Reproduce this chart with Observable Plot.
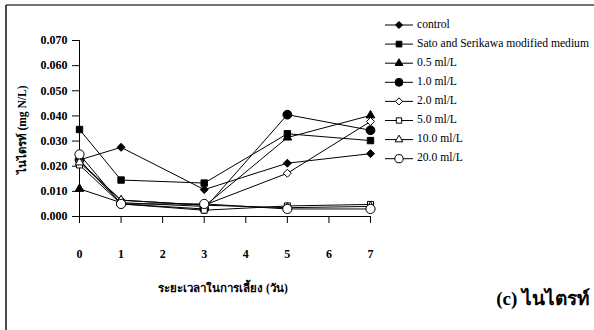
<!DOCTYPE html>
<html>
<head>
<meta charset="utf-8">
<script src="https://cdn.jsdelivr.net/npm/d3@7"></script>
<script src="https://cdn.jsdelivr.net/npm/@observablehq/plot@0.6"></script>
<style>
  html, body { margin: 0; padding: 0; background: #fff; }
  #chart { position: relative; width: 594px; height: 330px; overflow: hidden; }
  #chart svg, #chart svg text { font-family: "Liberation Serif", "Times New Roman", serif !important; }
</style>
</head>
<body>
<div id="chart"></div>
<script>
// ---- data ----
const days = [0, 1, 3, 5, 7];
const xTicks = [0, 1, 2, 3, 4, 5, 6, 7];
const yTicks = [0, 0.01, 0.02, 0.03, 0.04, 0.05, 0.06, 0.07];
const seriesNames = ["control", "Sato and Serikawa modified medium", "0.5 ml/L", "1.0 ml/L", "2.0 ml/L", "5.0 ml/L", "10.0 ml/L", "20.0 ml/L"];
const control   = [0.0225, 0.0275, 0.0107, 0.0212, 0.0250];
const sato      = [0.0346, 0.0145, 0.0133, 0.0329, 0.0302];
const ml0_5     = [0.0110, 0.0055, 0.0040, 0.0314, 0.0402];
const ml1_0     = [0.0225, 0.0050, 0.0030, 0.0405, 0.0343];
const ml2_0     = [0.0220, 0.0065, 0.0045, 0.0172, 0.0378];
const ml5_0     = [0.0205, 0.0050, 0.0025, 0.0042, 0.0048];
const ml10_0    = [0.0215, 0.0065, 0.0045, 0.0035, 0.0040];
const ml20_0    = [0.0247, 0.0050, 0.0050, 0.0030, 0.0030];
const seriesValues = [control, sato, ml0_5, ml1_0, ml2_0, ml5_0, ml10_0, ml20_0];
const yLabel = "ไนไตรท์ (mg N/L)";
const xLabel = "ระยะเวลาในการเลี้ยง (วัน)";
const panelTitle = "(c) ไนไตรท์";

// ---- styles ----
const symbols = ["diamond2", "square", "triangle", "circle", "diamond2", "square", "triangle", "circle"];
const fills   = ["black", "black", "black", "black", "white", "white", "white", "white"];
const radii   = [3.6, 3.6, 3.2, 4.4, 3.6, 3.4, 3.2, 4.6];

const data = [];
seriesNames.forEach((name, i) => {
  days.forEach((d, j) => data.push({series: name, idx: i, day: d, value: seriesValues[i][j]}));
});

const W = 594, H = 330;
const FF = "Liberation Serif, Times New Roman, serif";
const marks = [
  Plot.ruleX([0], {stroke: "black", strokeWidth: 1}),
  Plot.ruleY([0], {stroke: "black", strokeWidth: 1}),
  Plot.axisY({ticks: yTicks, tickSize: 7, tickPadding: 5, tickFormat: d3.format(".3f"), label: null,
    fontWeight: "bold", fontSize: 12, fontFamily: FF, stroke: "black"}),
  Plot.axisX({ticks: xTicks, tickSize: 7, tickPadding: 26, tickFormat: d => String(d), label: null,
    fontWeight: "bold", fontSize: 12, fontFamily: FF, stroke: "black"}),
  Plot.line(data, {x: "day", y: "value", z: "series", stroke: "black", strokeWidth: 1})
];
seriesNames.forEach((name, i) => {
  marks.push(Plot.dot(data.filter(d => d.idx === i), {
    x: "day", y: "value", symbol: () => symbols[i], r: radii[i],
    fill: fills[i], stroke: "black", strokeWidth: 1
  }));
});

const plot = Plot.plot({
  width: W, height: H,
  marginLeft: 79, marginRight: 224, marginTop: 40, marginBottom: 114,
  x: {domain: [0, 7]},
  y: {domain: [0, 0.07]},
  symbol: {type: "identity"},
  style: {fontFamily: FF, color: "black", overflow: "visible"},
  marks
});
document.getElementById("chart").appendChild(plot);

// ---- decorations: frame, titles, legend ----
const svg = d3.select(plot);
svg.append("line").attr("x1", 6).attr("x2", W).attr("y1", 5).attr("y2", 5)
  .attr("stroke", "#444").attr("stroke-width", 1.5);
svg.append("line").attr("x1", 6).attr("x2", 6).attr("y1", 5).attr("y2", H)
  .attr("stroke", "#111").attr("stroke-width", 1.5);

svg.append("text").attr("transform", "translate(23,130) rotate(-90)")
  .attr("text-anchor", "middle").attr("dominant-baseline", "middle")
  .attr("font-weight", "bold").attr("font-size", 11.5).text(yLabel);

svg.append("text").attr("x", 223).attr("y", 289)
  .attr("text-anchor", "middle").attr("dominant-baseline", "middle")
  .attr("font-weight", "bold").attr("font-size", 11.5).text(xLabel);

svg.append("text").attr("x", 590).attr("y", 301)
  .attr("text-anchor", "end").attr("dominant-baseline", "middle")
  .attr("font-weight", "bold").attr("font-size", 19).text(panelTitle);

const symMap = {diamond2: d3.symbolDiamond2, square: d3.symbolSquare, triangle: d3.symbolTriangle, circle: d3.symbolCircle};
const lg = svg.append("g").attr("text-anchor", "start");
seriesNames.forEach((name, i) => {
  const y = 25 + i * 19.1;
  lg.append("line").attr("x1", 385).attr("x2", 413).attr("y1", y).attr("y2", y)
    .attr("stroke", "black").attr("stroke-width", 1);
  lg.append("path").attr("transform", `translate(399,${y})`)
    .attr("d", d3.symbol(symMap[symbols[i]], Math.PI * radii[i] * radii[i] * 0.8)())
    .attr("fill", fills[i]).attr("stroke", "black").attr("stroke-width", 1);
  lg.append("text").attr("x", 417).attr("y", y).attr("dominant-baseline", "middle")
    .attr("text-anchor", "start").attr("font-size", 11.6).text(name);
});
</script>
</body>
</html>
